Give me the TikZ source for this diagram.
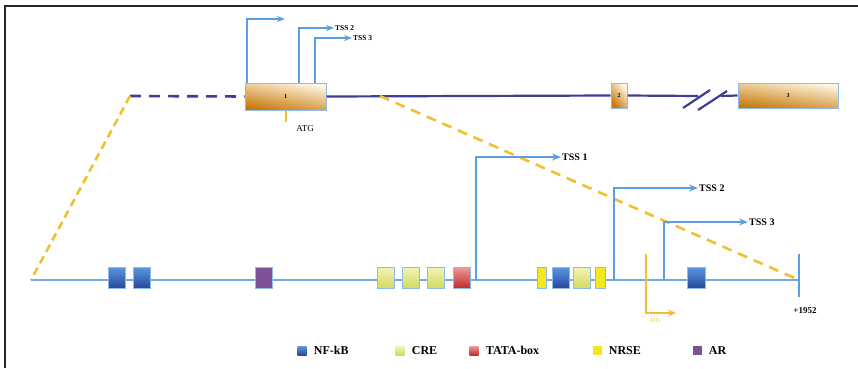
\documentclass[tikz,border=0pt]{standalone}
\usepackage{fontspec}
\setmainfont{Liberation Serif}
\usepackage{tikz}
\usetikzlibrary{
  positioning,
  arrows.meta,
  calc
}
\definecolor{genenavy}{HTML}{3C3E98}
\definecolor{lineblue}{HTML}{72AAE6}
\definecolor{tssblue}{HTML}{5C9EE4}
\definecolor{zoomgold}{HTML}{F0C030}
\definecolor{exondark}{HTML}{C8780A}
\definecolor{exonmid}{HTML}{F2C84E}
\definecolor{exonlight}{HTML}{FFF9E6}
\definecolor{nfkbtop}{HTML}{5A98E0}
\definecolor{nfkbbot}{HTML}{27489E}
\definecolor{cretop}{HTML}{F2F4B8}
\definecolor{crebot}{HTML}{D2DA5E}
\definecolor{tatatop}{HTML}{EE9A9A}
\definecolor{tatabot}{HTML}{BE2E2E}
\definecolor{nrsecol}{HTML}{F2E81C}
\definecolor{arcol}{HTML}{7C5198}
\tikzset{
  exon/.style={draw=lineblue!80, line width=1pt, inner sep=0pt, minimum height=25,
    top color=exonlight, middle color=exonmid, bottom color=exondark, shading angle=-10,
    font=\bfseries\fontsize{6}{6}\selectfont},
  site/.style={draw=lineblue!80, line width=1pt, inner sep=0pt,
    minimum width=17, minimum height=21},
  nfkb/.style={site, top color=nfkbtop, bottom color=nfkbbot},
  cre/.style={site, top color=cretop, bottom color=crebot},
  tata/.style={site, top color=tatatop, bottom color=tatabot},
  nrse/.style={site, fill=nrsecol, minimum width=9},
  arbox/.style={site, fill=arcol},
  tss/.style={draw=tssblue, line width=2pt, -{Stealth[length=9pt,width=7pt]}},
  tsslabel/.style={anchor=west, inner sep=1pt, font=\bfseries\fontsize{10}{10}\selectfont},
  zoomline/.style={draw=zoomgold, line width=2.6pt},
  legbox/.style={draw=none, inner sep=0pt, minimum size=9},
  legtext/.style={right=7pt of #1, inner sep=0pt, font=\bfseries\fontsize{12}{12}\selectfont}
}

\begin{document}
\begin{tikzpicture}[x=1pt, y=-1pt]
  \useasboundingbox (0,0) rectangle (858,368);
  % frame
  \draw[line width=1.8pt, black!85] (5,368) -- (5,6) -- (858,6);

  % gene, top row
  \coordinate (gstart) at (130,96);
  \coordinate (zoomR) at (380,96);
  \coordinate (brkL) at (698,96);
  \coordinate (brkR) at (721,96);
  \node[exon, minimum width=81, minimum height=27] (ex1) at (285.5,96.5) {1};
  \node[exon, minimum width=16, shading angle=-50] (ex2) at (619,95.5) {2};
  \node[exon, minimum width=100, shading angle=-8] (ex3) at (788,95.5) {3};
  \draw[genenavy, line width=2.6pt, dash pattern=on 11pt off 8pt] (gstart) -- (ex1.west);
  \draw[genenavy, line width=2.2pt] (ex1.east) -- (ex2.west);
  \draw[genenavy, line width=2.2pt] (ex2.east) -- (brkL);
  \draw[genenavy, line width=2.2pt] (brkR) -- (ex3.west);
  % break marks
  \draw[genenavy, line width=2.2pt] (683,108) -- (710,90);
  \draw[genenavy, line width=2.2pt] (698,110) -- (727,91);

  % TSSs of exon 1
  \coordinate (tssAtip) at (285,19);
  \node[tsslabel, font=\bfseries\fontsize{7.5}{7.5}\selectfont] (tssBlab) at (334,28) {TSS 2};
  \node[tsslabel, font=\bfseries\fontsize{7.5}{7.5}\selectfont] (tssClab) at (352,38) {TSS 3};
  \draw[tss, -{Stealth[length=8pt,width=6pt]}] ($(ex1.north west)+(2,0)$) |- (tssAtip);
  \draw[tss, -{Stealth[length=8pt,width=6pt]}] ($(ex1.north west)+(54,0)$) |- (tssBlab.west);
  \draw[tss, -{Stealth[length=8pt,width=6pt]}] ($(ex1.north west)+(70,0)$) |- (tssClab.west);

  % ATG of exon 1
  \node[font=\fontsize{9}{9}\selectfont, inner sep=1pt] (atgtop) at (305,129) {ATG};
  \draw[zoomgold, line width=2pt] ($(ex1.south west)+(41,0)$) -- ++(0,11);

  % promoter, bottom row
  \coordinate (bstart) at (31,280);
  \coordinate (bend) at (799,280);
  \draw[zoomline, dash pattern=on 8pt off 5pt] (gstart) -- (bstart);
  \draw[zoomline, dash pattern=on 10pt off 7pt] (zoomR) -- (bend);
  \draw[lineblue, line width=2pt] (bstart) -- (bend);
  \draw[tssblue, line width=2pt] (799,254) -- (799,297);
  \node[font=\bfseries\fontsize{9}{9}\selectfont] (endlab) at (805,311) {+1952};

  % binding sites
  \node[nfkb] (nf1) at (117,277.5) {};
  \node[nfkb] (nf2) at (141.5,277.5) {};
  \node[arbox] (ar1) at (263.5,277.5) {};
  \node[cre] (cre1) at (386,277.5) {};
  \node[cre] (cre2) at (411,277.5) {};
  \node[cre] (cre3) at (436,277.5) {};
  \node[tata] (tata1) at (461.5,277.5) {};
  \node[nrse] (nrse1) at (541.5,277.5) {};
  \node[nfkb] (nf3) at (560.5,277.5) {};
  \node[cre] (cre4) at (582,277.5) {};
  \node[nrse, minimum width=10] (nrse2) at (600,277.5) {};
  \node[nfkb, minimum width=18] (nf4) at (696,277.5) {};

  % TSS 1-3
  \coordinate (tss1foot) at (476,280);
  \coordinate (tss2foot) at (614,280);
  \coordinate (tss3foot) at (664,280);
  \node[tsslabel] (tss1lab) at (561,157) {TSS 1};
  \node[tsslabel] (tss2lab) at (698,188) {TSS 2};
  \node[tsslabel] (tss3lab) at (748,222) {TSS 3};
  \draw[tss] (tss1foot) |- (tss1lab.west);
  \draw[tss] (tss2foot) |- (tss2lab.west);
  \draw[tss] (tss3foot) |- (tss3lab.west);

  % ATG of the promoter
  \coordinate (atgfoot) at (646,254);
  \coordinate (atgtip) at (676,313);
  \draw[zoomgold, line width=2pt, -{Stealth[length=8pt,width=7pt]}] (atgfoot) |- (atgtip);
  \node[zoomgold, font=\itshape\fontsize{6}{6}\selectfont, inner sep=0pt] (atglow) at (655,321) {ATG};

  % legend
  \node[legbox, top color=nfkbtop, bottom color=nfkbbot] (lnf) at (302,350.5) {};
  \node[legtext=lnf] (lnftext) {NF-kB};
  \node[legbox, top color=cretop, bottom color=crebot] (lcre) at (400,350.5) {};
  \node[legtext=lcre] (lcretext) {CRE};
  \node[legbox, top color=tatatop, bottom color=tatabot] (ltata) at (474,350.5) {};
  \node[legtext=ltata] (ltatatext) {TATA-box};
  \node[legbox, fill=nrsecol] (lnrse) at (597,350.5) {};
  \node[legtext=lnrse] (lnrsetext) {NRSE};
  \node[legbox, fill=arcol] (lar) at (697,350.5) {};
  \node[legtext=lar] (lartext) {AR};
\end{tikzpicture}
\end{document}
